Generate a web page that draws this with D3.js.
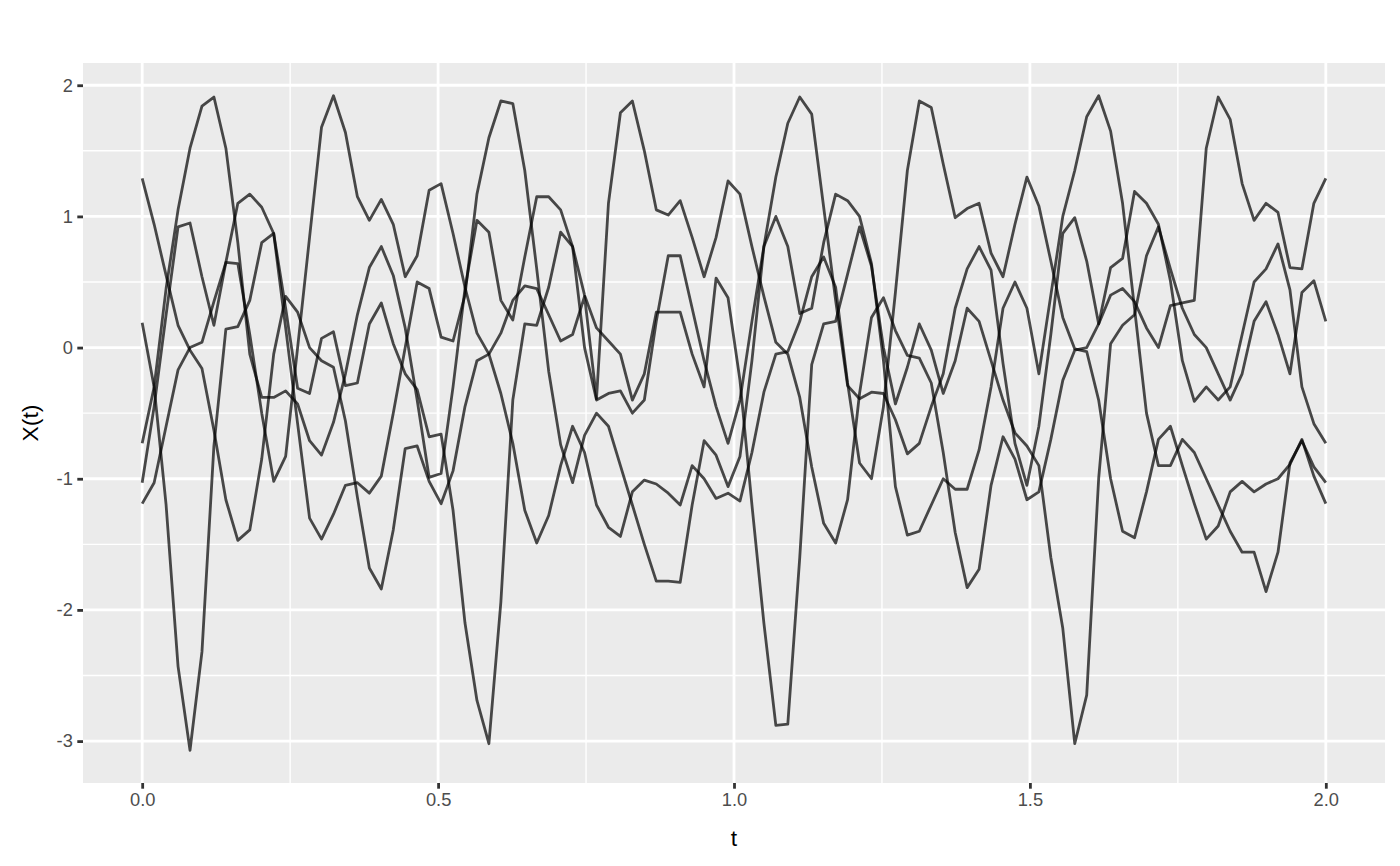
<!DOCTYPE html>
<html>
<head>
<meta charset="utf-8">
<script src="https://cdn.jsdelivr.net/npm/d3@7"></script>
<style>
  body { margin: 0; background: #fff; }
  svg { display: block; font-family: "Liberation Sans", Arial, sans-serif; }
</style>
</head>
<body>
<svg id="chart" width="1400" height="866"></svg>
<script>
// sample grid: 100 points on [0, 2]
const nPoints = 100;
const tMax = 2;

// curves, one value per sample
const curveA = [1.29, 0.94, 0.55, 0.17, -0.02, -0.16, -0.63, -1.16, -1.47, -1.39,
  -0.85, -0.05, 0.39, 0.27, 0.00, -0.10, -0.15, -0.56, -1.14, -1.68,
  -1.84, -1.39, -0.77, -0.75, -1.02, -1.19, -0.94, -0.45, -0.10, -0.05,
  0.11, 0.36, 0.47, 0.45, 0.25, 0.05, 0.10, 0.39, -0.39, 1.10,
  1.79, 1.88, 1.50, 1.05, 1.01, 1.12, 0.84, 0.54, 0.84, 1.27,
  1.17, 0.77, 0.39, 0.04, -0.05, -0.38, -0.91, -1.34, -1.49, -1.16,
  -0.35, 0.23, 0.38, 0.13, -0.06, -0.08, -0.27, -0.80, -1.41, -1.83,
  -1.69, -1.05, -0.68, -0.85, -1.16, -1.10, -0.70, -0.25, -0.02, 0.00,
  0.18, 0.40, 0.45, 0.35, 0.15, 0.00, 0.32, 0.34, 0.36, 1.52,
  1.91, 1.74, 1.25, 0.97, 1.10, 1.03, 0.61, 0.60, 1.10, 1.29];

const curveB = [0.19, -0.30, -1.20, -2.43, -3.07, -2.32, -0.75, 0.14, 0.16, 0.36,
  0.80, 0.87, 0.30, -0.31, -0.35, 0.07, 0.12, -0.29, -0.27, 0.18,
  0.34, 0.03, -0.20, -0.32, -0.68, -0.66, -1.24, -2.10, -2.69, -3.02,
  -1.94, -0.40, 0.18, 0.17, 0.46, 0.88, 0.77, 0.40, 0.15, 0.05,
  -0.05, -0.40, -0.20, 0.27, 0.27, 0.27, -0.05, -0.30, 0.53, 0.38,
  -0.25, -1.20, -2.10, -2.88, -2.87, -1.60, -0.13, 0.18, 0.20, 0.56,
  0.92, 0.62, 0.00, -0.43, -0.15, 0.18, -0.02, -0.35, -0.10, 0.30,
  0.20, -0.10, -0.40, -0.65, -0.75, -0.90, -1.60, -2.14, -3.02, -2.65,
  -1.00, 0.03, 0.17, 0.25, 0.70, 0.92, 0.60, 0.30, 0.10, 0.00,
  -0.20, -0.40, -0.20, 0.20, 0.35, 0.10, -0.20, 0.42, 0.51, 0.20];

const curveC = [-0.73, -0.30, 0.45, 1.05, 1.52, 1.84, 1.91, 1.52, 0.80, -0.05,
  -0.38, -0.38, -0.33, -0.43, -0.71, -0.82, -0.57, -0.20, 0.25, 0.61,
  0.77, 0.55, 0.15, -0.40, -0.99, -0.96, -0.30, 0.45, 0.97, 0.88,
  0.36, 0.21, 0.69, 1.15, 1.15, 1.05, 0.77, 0.00, -0.40, -0.35,
  -0.33, -0.50, -0.40, 0.20, 0.70, 0.70, 0.30, -0.10, -0.45, -0.73,
  -0.40, 0.20, 0.77, 1.30, 1.71, 1.91, 1.78, 1.07, 0.36, -0.29,
  -0.39, -0.34, -0.35, -0.55, -0.81, -0.73, -0.45, -0.20, 0.30, 0.60,
  0.77, 0.59, -0.12, -0.73, -1.05, -0.60, 0.10, 0.87, 0.99, 0.66,
  0.18, 0.61, 0.68, 1.19, 1.10, 0.94, 0.51, -0.10, -0.41, -0.30,
  -0.40, -0.30, 0.10, 0.50, 0.60, 0.79, 0.44, -0.30, -0.58, -0.73];

const curveD = [-1.03, -0.45, 0.25, 0.92, 0.95, 0.54, 0.17, 0.65, 1.10, 1.17,
  1.07, 0.87, 0.15, -0.58, -1.30, -1.46, -1.27, -1.05, -1.03, -1.11,
  -0.98, -0.50, 0.00, 0.50, 0.45, 0.08, 0.05, 0.40, 1.17, 1.60,
  1.88, 1.86, 1.35, 0.60, -0.18, -0.74, -1.03, -0.67, -0.50, -0.60,
  -0.90, -1.20, -1.50, -1.78, -1.78, -1.79, -1.20, -0.71, -0.82, -1.06,
  -0.83, -0.10, 0.77, 1.00, 0.77, 0.26, 0.30, 0.80, 1.17, 1.12,
  1.00, 0.64, -0.10, -1.06, -1.43, -1.40, -1.20, -1.00, -1.08, -1.08,
  -0.78, -0.30, 0.30, 0.50, 0.30, -0.20, 0.40, 1.00, 1.35, 1.76,
  1.92, 1.65, 1.10, 0.30, -0.50, -0.90, -0.90, -0.70, -0.80, -1.00,
  -1.20, -1.40, -1.56, -1.56, -1.86, -1.56, -0.88, -0.71, -0.91, -1.03];

const curveE = [-1.19, -1.03, -0.60, -0.17, 0.00, 0.04, 0.35, 0.65, 0.64, 0.10,
  -0.50, -1.02, -0.83, 0.00, 0.84, 1.68, 1.92, 1.64, 1.15, 0.97,
  1.13, 0.94, 0.54, 0.70, 1.20, 1.25, 0.87, 0.46, 0.11, -0.05,
  -0.35, -0.73, -1.24, -1.49, -1.28, -0.90, -0.60, -0.80, -1.20, -1.37,
  -1.44, -1.10, -1.01, -1.04, -1.11, -1.20, -0.90, -1.00, -1.15, -1.11,
  -1.17, -0.80, -0.34, -0.05, -0.03, 0.20, 0.54, 0.69, 0.46, -0.27,
  -0.88, -1.00, -0.45, 0.42, 1.35, 1.88, 1.83, 1.40, 0.99, 1.06,
  1.10, 0.72, 0.54, 0.94, 1.30, 1.08, 0.66, 0.23, -0.01, -0.03,
  -0.40, -1.00, -1.40, -1.45, -1.10, -0.70, -0.60, -0.90, -1.19, -1.46,
  -1.36, -1.10, -1.02, -1.10, -1.04, -1.00, -0.89, -0.70, -0.98, -1.19];

const curves = [curveA, curveB, curveC, curveD, curveE];

const xTicks = [0, 0.5, 1, 1.5, 2];
const xMinor = [0.25, 0.75, 1.25, 1.75];
const yTicks = [2, 1, 0, -1, -2, -3];
const yMinor = [1.5, 0.5, -0.5, -1.5, -2.5];

const panel = { left: 83, right: 1385, top: 63, bottom: 783 };

const svg = d3.select("#chart");

// ggplot style: 5% expansion on both axes
const allVals = curves.flat();
const [yLo, yHi] = d3.extent(allVals);
const yPad = (yHi - yLo) * 0.05;

const x = d3.scaleLinear()
  .domain([0 - tMax * 0.05, tMax + tMax * 0.05])
  .range([panel.left, panel.right]);

const y = d3.scaleLinear()
  .domain([yLo - yPad, yHi + yPad])
  .range([panel.bottom, panel.top]);

// panel background
svg.append("rect")
  .attr("x", panel.left)
  .attr("y", panel.top)
  .attr("width", panel.right - panel.left)
  .attr("height", panel.bottom - panel.top)
  .attr("fill", "#EBEBEB");

const grid = svg.append("g").attr("stroke", "#fff");

// minor grid
grid.selectAll(".ymin").data(yMinor).join("line")
  .attr("x1", panel.left).attr("x2", panel.right)
  .attr("y1", (d) => y(d)).attr("y2", (d) => y(d))
  .attr("stroke-width", 1.4);
grid.selectAll(".xmin").data(xMinor).join("line")
  .attr("y1", panel.top).attr("y2", panel.bottom)
  .attr("x1", (d) => x(d)).attr("x2", (d) => x(d))
  .attr("stroke-width", 1.4);

// major grid
grid.selectAll(".ymaj").data(yTicks).join("line")
  .attr("x1", panel.left).attr("x2", panel.right)
  .attr("y1", (d) => y(d)).attr("y2", (d) => y(d))
  .attr("stroke-width", 2.8);
grid.selectAll(".xmaj").data(xTicks).join("line")
  .attr("y1", panel.top).attr("y2", panel.bottom)
  .attr("x1", (d) => x(d)).attr("x2", (d) => x(d))
  .attr("stroke-width", 2.8);

// the curves
const line = d3.line()
  .x((d, i) => x((tMax * i) / (nPoints - 1)))
  .y((d) => y(d));

svg.append("g")
  .selectAll("path")
  .data(curves)
  .join("path")
  .attr("d", line)
  .attr("fill", "none")
  .attr("stroke", "black")
  .attr("stroke-opacity", 0.7)
  .attr("stroke-width", 2.8)
  .attr("stroke-linejoin", "round");

// axes
const xAxis = d3.axisBottom(x)
  .tickValues(xTicks)
  .tickFormat(d3.format(".1f"))
  .tickSize(5.7)
  .tickPadding(4.5);

const yAxis = d3.axisLeft(y)
  .tickValues(yTicks)
  .tickFormat((d) => (d < 0 ? "-" + Math.abs(d) : String(d)))
  .tickSize(5.7)
  .tickPadding(4.5);

const gx = svg.append("g")
  .attr("transform", `translate(0,${panel.bottom})`)
  .call(xAxis);

const gy = svg.append("g")
  .attr("transform", `translate(${panel.left},0)`)
  .call(yAxis);

for (const g of [gx, gy]) {
  g.select(".domain").remove();
  g.selectAll(".tick line").attr("stroke", "#333333").attr("stroke-width", 2.8);
  g.selectAll(".tick text")
    .attr("fill", "#4D4D4D")
    .style("font-size", "18.3px")
    .style("font-family", "'Liberation Sans', Arial, sans-serif");
}

// axis titles
svg.append("text")
  .attr("x", (panel.left + panel.right) / 2)
  .attr("y", 846)
  .attr("text-anchor", "middle")
  .style("font-size", "22.9px")
  .attr("fill", "black")
  .text("t");

svg.append("text")
  .attr("transform", `translate(38,${(panel.top + panel.bottom) / 2}) rotate(-90)`)
  .attr("text-anchor", "middle")
  .style("font-size", "22.9px")
  .attr("fill", "black")
  .text("X(t)");
</script>
</body>
</html>
